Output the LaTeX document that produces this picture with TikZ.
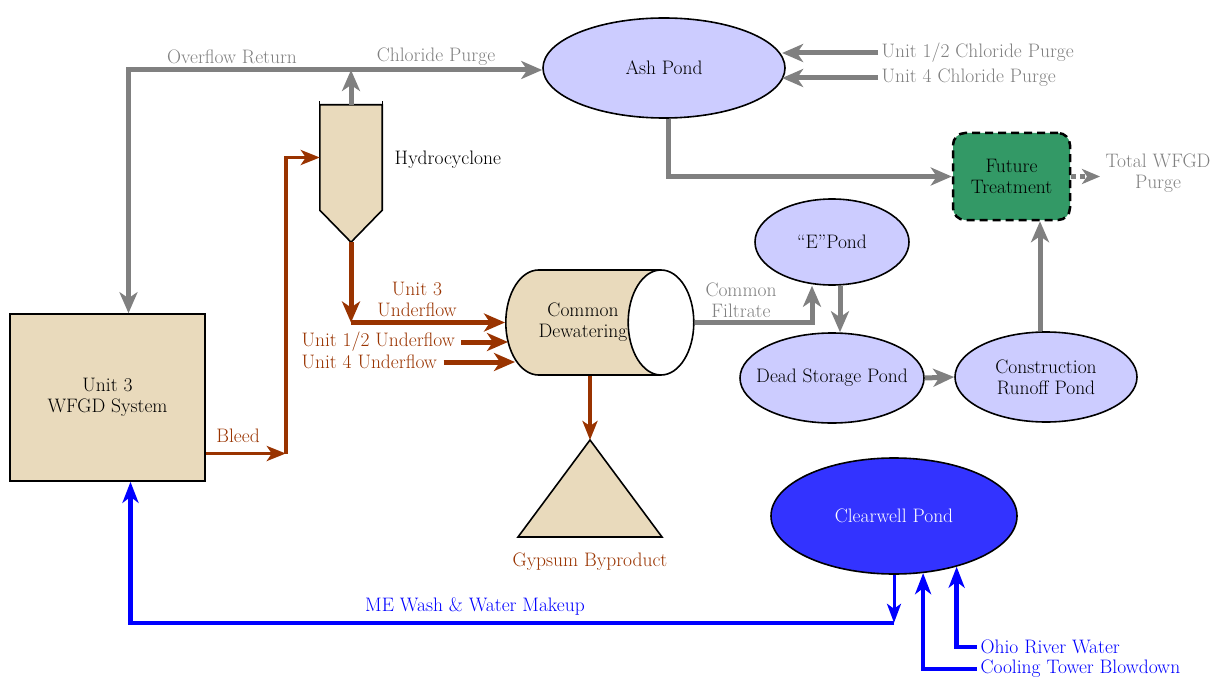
\documentclass[tikz,border=0pt]{standalone}
\usepackage{fontspec}
\usetikzlibrary{arrows.meta,shapes.geometric,calc}
\definecolor{tan}{RGB}{233,218,188}
\definecolor{lav}{RGB}{204,204,255}
\definecolor{fgreen}{RGB}{51,153,102}
\definecolor{cwblue}{RGB}{51,51,255}
\definecolor{rust}{RGB}{153,51,0}
\definecolor{flowgray}{RGB}{128,128,128}
\begin{document}
\begin{tikzpicture}[x=1pt,y=-1pt,
    font=\fontsize{19.5}{21}\selectfont,
    pond/.style={ellipse,draw,line width=1.6pt,fill=lav,inner xsep=-25pt,inner ysep=0pt,align=center},
    tanshape/.style={draw,line width=1.6pt,fill=tan},
    gflow/.style={draw=flowgray,line width=5pt,-{Stealth[length=21pt,width=18pt,inset=6pt]}},
    rflow/.style={draw=rust,line width=5pt,-{Stealth[length=21pt,width=18pt,inset=6pt]}},
    rthin/.style={draw=rust,line width=3.5pt,-{Stealth[length=19pt,width=15pt,inset=5pt]}},
    bflow/.style={draw=blue,line width=4.5pt,-{Stealth[length=21pt,width=16pt,inset=6pt]}},
    bthin/.style={draw=blue,line width=3pt,-{Stealth[length=19pt,width=14pt,inset=5pt]}},
    glabel/.style={text=flowgray,align=center},
    rlabel/.style={text=rust,align=center},
    blabel/.style={text=blue,align=center}]
\useasboundingbox (0,0) rectangle (1220,679);

% equipment
\node[tanshape,minimum width=195,minimum height=167,align=center] (unit3) at (107.5,397.5) {Unit 3\\WFGD System};
\node[minimum width=62,minimum height=105,inner sep=0pt] (hc) at (351,157.5) {};
\filldraw[tanshape] (hc.north west) -- (hc.south west) -- ($(hc.south)+(0,32)$) coordinate (hcbot)
    -- (hc.south east) -- (hc.north east) -- cycle;
\draw[line width=1pt] (hc.north west) -- ++(0,-4) (hc.north east) -- ++(0,-4);
\node[anchor=west] (hclabel) at ($(hc.east)+(9,2)$) {Hydrocyclone};
\node[cylinder,shape border rotate=0,aspect=1.7,minimum width=105,minimum height=188,
    cylinder uses custom fill,cylinder body fill=tan,cylinder end fill=white,
    draw,line width=1.6pt,align=center,inner sep=0pt,anchor=west] (cd) at (505,322.5) {Common\\Dewatering};
\coordinate (gyp) at (590,440);
\filldraw[tanshape] (gyp) -- (662,537) -- (518,537) -- cycle;
\node[rlabel] (gyplabel) at (590,562) {Gypsum Byproduct};

% ponds
\node[pond,minimum width=242,minimum height=100] (ash) at (664,68) {Ash Pond};
\node[pond,minimum width=154,minimum height=86] (ep) at (832,242) {``E''Pond};
\node[pond,minimum width=184,minimum height=90] (dsp) at (832,378) {Dead Storage Pond};
\node[pond,minimum width=182,minimum height=90] (crp) at (1046,377) {Construction\\Runoff Pond};
\node[draw,line width=2.5pt,dash pattern=on 8pt off 5pt,rounded corners=12pt,fill=fgreen,
    minimum width=117,minimum height=87,align=center] (ft) at (1011.5,176.5) {Future\\Treatment};
\node[pond,fill=cwblue,text=white,minimum width=246,minimum height=116] (cw) at (894,516) {Clearwell Pond};

% chloride and overflow
\coordinate (split) at (351,70);
\draw[gflow] (hc.north) -- (split);
\draw[gflow] (split) -- (ash.west |- split);
\draw[gflow] (split) -| ([xshift=21pt]unit3.north);
\node[glabel] (ovr) at (232,57) {Overflow Return};
\node[glabel] (clp) at (436,57) {Chloride Purge};
\node[glabel,anchor=west] (cp12) at (878,53) {Unit 1/2 Chloride Purge};
\node[glabel,anchor=west] (cp4) at (878,78) {Unit 4 Chloride Purge};
\draw[gflow] (cp12.west) -- (ash.6 |- cp12.west);
\draw[gflow] (cp4.west) -- (ash.-6 |- cp4.west);
\draw[gflow] ([xshift=4pt]ash.south) |- (ft.west);
\node[glabel] (twp) at (1158,173) {Total WFGD\\Purge};
\draw[draw=flowgray,line width=5pt,dash pattern=on 5pt off 4pt,
    -{Stealth[length=18pt,width=15pt,inset=5pt]}] (ft.east) -- ([xshift=-2pt]twp.west |- ft.east);

% filtrate ponds
\draw[gflow] (cd.east) -| ([xshift=-20pt]ep.south);
\node[glabel] (cft) at (741,300) {Common\\Filtrate};
\draw[gflow] ([xshift=8pt]ep.south) -- ([xshift=8pt]ep.south |- dsp.north);
\draw[gflow] (dsp.east) -- (crp.west);
\draw[gflow] ([xshift=-6pt]crp.north) -- ([xshift=-6pt]crp.north |- ft.south);

% solids
\draw[rthin] ([yshift=-56pt]unit3.east) -- ++(80,0) coordinate (bleed);
\draw[rthin] (bleed) |- (hc.west);
\node[rlabel] (bl) at (238,436) {Bleed};
\coordinate (uf) at (351,322.5);
\draw[rflow] (hcbot) -- (uf);
\draw[rflow] (uf) -- (cd.west);
\node[rlabel] (uf3) at (417,299) {Unit 3\\Underflow};
\node[rlabel,anchor=west] (uf12) at (298,342) {Unit 1/2 Underflow};
\node[rlabel,anchor=west] (uf4) at (298,362) {Unit 4 Underflow};
\draw[rflow] ([xshift=3pt]uf12.east) -- ([xshift=3pt]cd.west |- uf12.east);
\draw[rflow] ([xshift=3pt]uf4.east) -- ([xshift=10pt]cd.west |- uf4.east);
\draw[rthin] (cd.south -| gyp) -- (gyp);

% water
\draw[bthin] (cw.south) -- ++(0,48) coordinate (mk);
\draw[bflow] (mk) -| ([xshift=23pt]unit3.south);
\node[blabel] (mew) at (475,606) {ME Wash \& Water Makeup};
\node[blabel,anchor=west] (orw) at (977,647) {Ohio River Water};
\node[blabel,anchor=west] (ctb) at (977,669) {Cooling Tower Blowdown};
\draw[bflow] (orw.west) -| (cw.-39.6);
\draw[bflow] (ctb.west) -| (cw.-63.6);
\end{tikzpicture}
\end{document}
